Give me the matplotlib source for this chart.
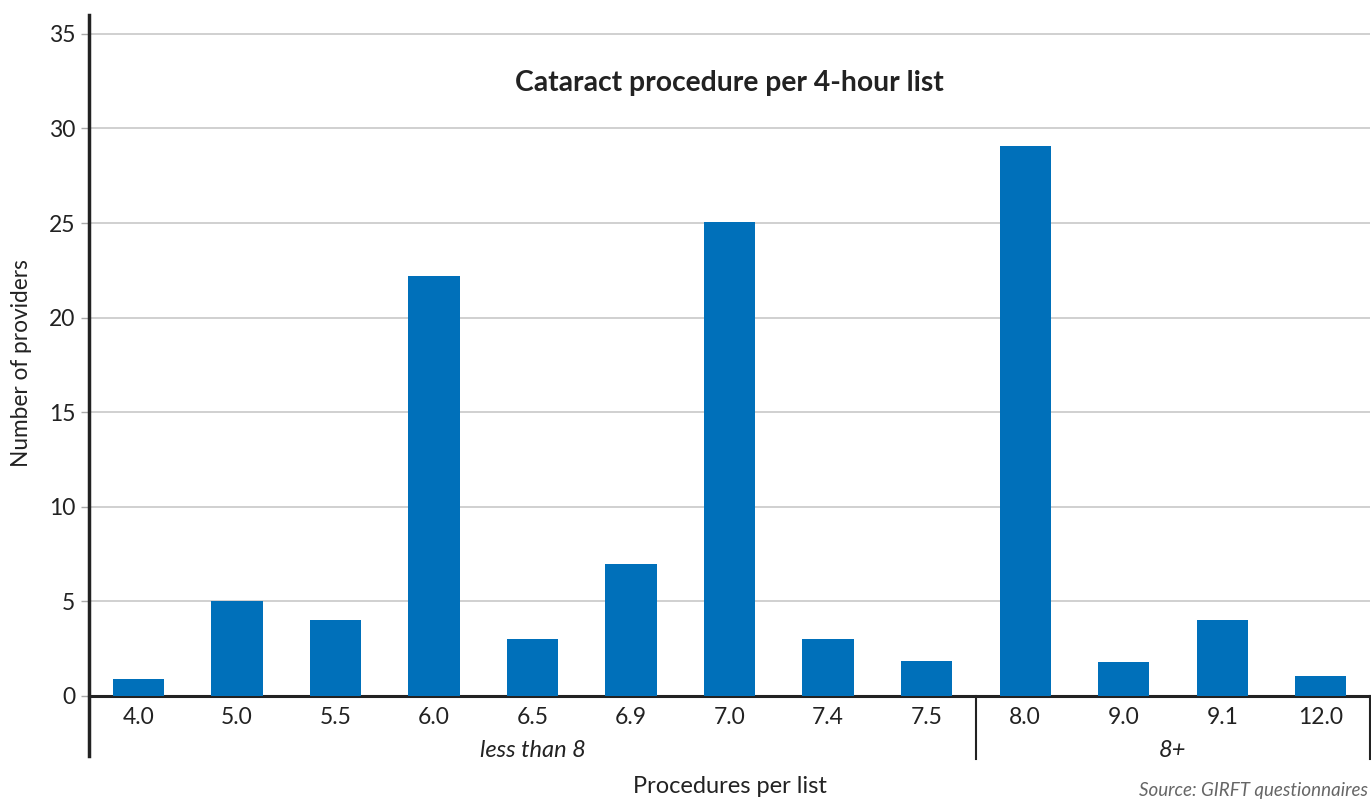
import matplotlib
matplotlib.use("Agg")
from matplotlib import pyplot as plt

plt.rcParams['font.family'] = ['Lato', 'DejaVu Sans']

categories = ["4.0", "5.0", "5.5", "6.0", "6.5", "6.9", "7.0", "7.4", "7.5", "8.0", "9.0", "9.1", "12.0"]
providers = [0.9, 5, 4, 22.2, 3, 7, 25.05, 3, 1.85, 29.1, 1.8, 4, 1.05]
groups = ["less than 8", "8+"]
group_sizes = [9, 4]

fig = plt.figure(figsize=(13.71, 8.01), dpi=100)
ax = fig.add_axes([0.0650, 0.1311, 0.9343, 0.8502])

x = list(range(len(categories)))
ax.bar(x, providers, width=0.52, color="#0070BA", zorder=3)

ax.set_xlim(-0.5, len(categories) - 0.5)
ax.set_ylim(0, 36)
ax.set_yticks(range(0, 36, 5))
ax.yaxis.grid(True, color="#c8c8c8", linewidth=1.2, zorder=0)
ax.set_xticks(x)
ax.set_xticklabels(categories, fontsize=16.5, color="#222222")
ax.tick_params(axis="x", length=0, pad=8)
ax.tick_params(axis="y", labelsize=16.5, labelcolor="#222222", length=6, width=1, color="#aaaaaa", pad=4)

for s in ["top", "right"]:
    ax.spines[s].set_visible(False)
ax.spines["bottom"].set_linewidth(2.2)
ax.spines["bottom"].set_color("#222222")
ax.spines["left"].set_visible(False)

# left axis line running below the plot, and group dividers
trans = ax.get_xaxis_transform()
ax.plot([-0.5, -0.5], [-0.088, 1.0], transform=trans, color="#222222", lw=2.5, clip_on=False)
start = -0.5
for name, n in zip(groups, group_sizes):
    end = start + n
    ax.plot([end, end], [-0.092, 0], transform=trans, color="#222222", lw=1.5, clip_on=False)
    ax.text((start + end) / 2, -0.08, name, transform=trans, ha="center", va="center",
            fontsize=17, style="italic", color="#222222")
    start = end

ax.text(0.5, 0.9, "Cataract procedure per 4-hour list", transform=ax.transAxes,
        ha="center", va="center", fontsize=20.3, fontweight="bold", color="#222222")
fig.text(0.5325, 0.0175, "Procedures per list", ha="center", va="center", fontsize=17, color="#222222")
fig.text(0.016, 0.547, "Number of providers", rotation=90, ha="center", va="center", fontsize=16.3, color="#222222")
fig.text(0.998, 0.0137, "Source: GIRFT questionnaires", ha="right", va="center", fontsize=13.5,
         style="italic", color="#666666")

fig.savefig("out.png", dpi=100)
